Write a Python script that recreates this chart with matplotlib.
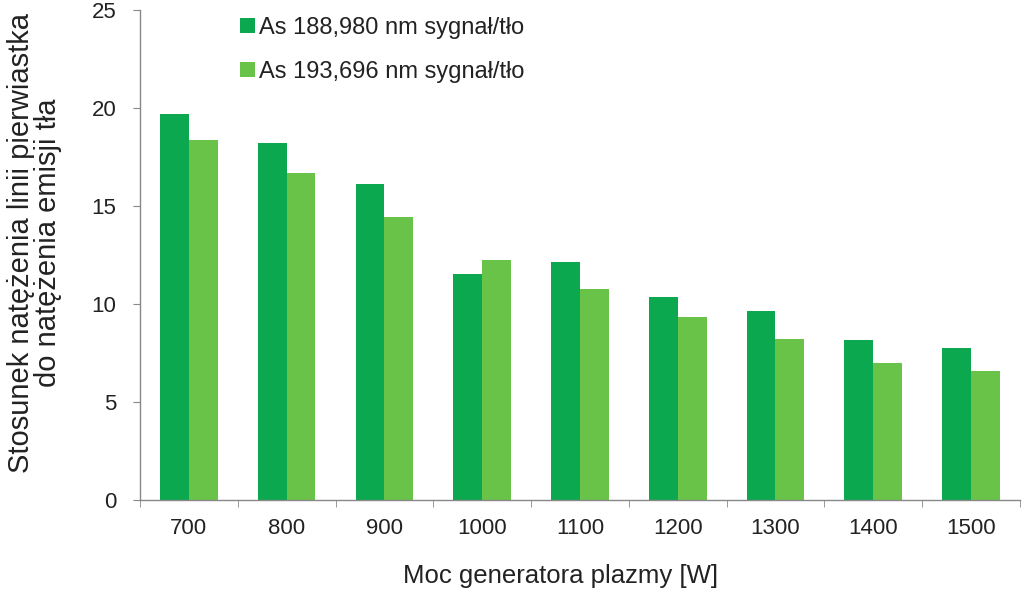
import matplotlib
matplotlib.use("Agg")
import matplotlib.pyplot as plt
import numpy as np

categories = ["700", "800", "900", "1000", "1100", "1200", "1300", "1400", "1500"]
series1_name = "As 188,980 nm sygnał/tło"
series2_name = "As 193,696 nm sygnał/tło"
series1 = [19.71, 18.20, 16.12, 11.51, 12.16, 10.34, 9.66, 8.16, 7.74]
series2 = [18.35, 16.71, 14.42, 12.24, 10.75, 9.32, 8.23, 6.99, 6.57]
yticks = [0, 5, 10, 15, 20, 25]

plt.rcParams['font.family'] = ['Liberation Sans', 'DejaVu Sans']

fig = plt.figure(figsize=(10.24, 5.93), dpi=100)
ax = fig.add_axes([0.1367, 0.1568, 0.996 - 0.1367, 0.9831 - 0.1568])

x = np.arange(len(categories))
w = 0.295
c1 = "#0ba850"
c2 = "#69c348"
ax.bar(x - w / 2, series1, width=w, color=c1, label=series1_name)
ax.bar(x + w / 2, series2, width=w, color=c2, label=series2_name)

ax.set_xlim(-0.5, len(categories) - 0.5)
ax.set_ylim(0, 25)
ax.set_yticks(yticks)
ax.set_yticklabels([str(t) for t in yticks], fontsize=16, color="#222222")
ax.set_xticks(x)
ax.set_xticklabels(categories, fontsize=16, color="#222222")
ax.set_xticks(np.arange(len(categories) + 1) - 0.5, minor=True)
ax.tick_params(axis='x', which='major', length=0, pad=13)
ax.tick_params(axis='x', which='minor', length=5, color="#888888", direction='out')
ax.tick_params(axis='y', length=5, color="#888888", direction='out', pad=12)

for s in ["top", "right"]:
    ax.spines[s].set_visible(False)
for s in ["left", "bottom"]:
    ax.spines[s].set_color("#888888")
    ax.spines[s].set_linewidth(1.0)

ax.set_xlabel("Moc generatora plazmy [W]", fontsize=18.5, color="#222222", labelpad=18)
ax.xaxis.label.set_x(0.478)
ax.set_ylabel("Stosunek natężenia linii pierwiastka\ndo natężenia emisji tła", fontsize=21,
              color="#222222", labelpad=21, linespacing=0.95)
ax.yaxis.label.set_y(0.525)

leg = ax.legend(loc='upper left', bbox_to_anchor=(0.09, 1.03), frameon=False,
                fontsize=17, handlelength=0.62, handleheight=0.62, handletextpad=0.15,
                labelspacing=0.95)
for t in leg.get_texts():
    t.set_color("#222222")

fig.savefig("out.png", dpi=100, facecolor="white")
